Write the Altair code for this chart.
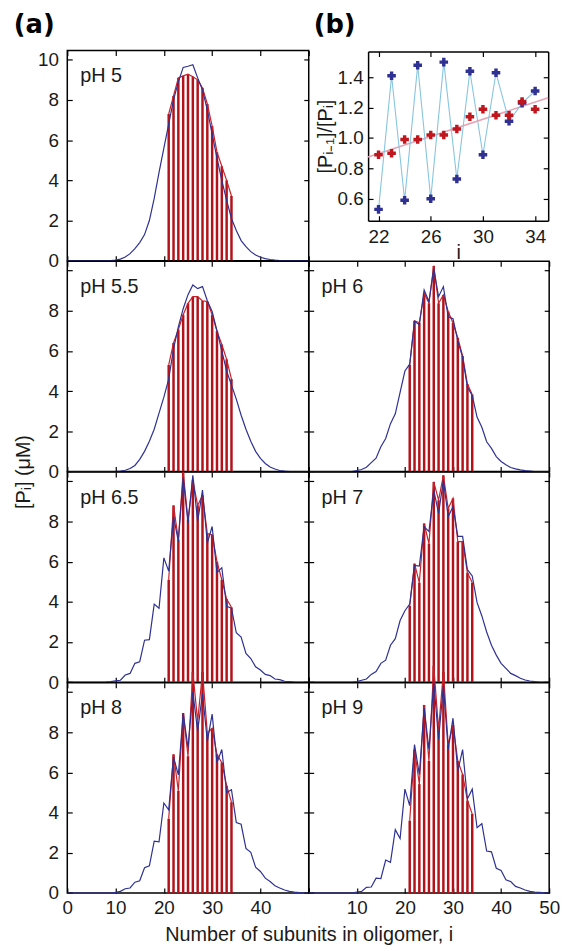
import altair as alt
import pandas as pd

# ---------------- data ----------------
I = [0, 1, 2, 3, 4, 5, 6, 7, 8, 9, 10, 11, 12, 13, 14, 15, 16, 17, 18, 19, 20,
     21, 22, 23, 24, 25, 26, 27, 28, 29, 30, 31, 32, 33, 34, 35, 36, 37, 38, 39,
     40, 41, 42, 43, 44, 45, 46, 47, 48, 49, 50]
RI = [21, 22, 23, 24, 25, 26, 27, 28, 29, 30, 31, 32, 33, 34]

BLUE_PH5 = [0, 0, 0, 0, 0, 0, 0, 0, 0.0, 0.01, 0.03, 0.08, 0.18, 0.35, 0.6, 0.9, 1.3, 2.0,
            3.1, 4.4, 5.6, 6.8, 8.0, 8.9, 9.62, 9.68, 9.75, 9.1, 8.5, 7.5, 6.3, 5.1, 4.0,
            3.0, 2.1, 1.5, 1.0, 0.7, 0.45, 0.28, 0.17, 0.1, 0.06, 0.03, 0.01, 0, 0, 0, 0, 0, 0]
BLUE_PH55 = [0, 0, 0, 0, 0, 0, 0, 0, 0, 0, 0.0, 0.02, 0.06, 0.15, 0.3, 0.6, 1.0, 1.5, 2.1,
             2.9, 3.7, 4.6, 6.1, 7.2, 8.1, 8.8, 9.28, 9.1, 9.2, 8.5, 7.96, 7.0, 6.0, 5.0, 4.3,
             3.6, 2.8, 2.1, 1.5, 1.0, 0.65, 0.4, 0.22, 0.12, 0.05, 0.02, 0, 0, 0, 0, 0]
BLUE_PH6 = [0, 0, 0, 0, 0, 0, 0, 0, 0, 0, 0.05, 0.1, 0.21, 0.44, 0.66, 1.23, 1.64, 2.38, 2.87,
            3.94, 5.0, 5.34, 7.47, 7.3, 9.03, 8.46, 10.1, 8.7, 9.2, 7.7, 7.6, 6.5, 5.67, 4.19,
            3.78, 2.71, 2.2, 1.48, 1.15, 0.74, 0.5, 0.33, 0.2, 0.13, 0.08, 0.04, 0.02, 0, 0, 0, 0]
BLUE_PH65 = [0, 0, 0, 0, 0, 0, 0, 0, 0.01, 0.03, 0.07, 0.1, 0.36, 0.44, 0.94, 1.02, 2.09, 2.12,
             3.89, 3.68, 6.19, 5.53, 8.24, 7.01, 10.2, 7.9, 10.3, 8.0, 9.56, 6.93, 7.75, 5.45,
             5.7, 3.78, 3.69, 2.46, 2.25, 1.43, 1.18, 0.77, 0.61, 0.39, 0.33, 0.16, 0.13, 0.05,
             0.03, 0.01, 0, 0, 0]
BLUE_PH7 = [0, 0, 0, 0, 0, 0, 0, 0, 0, 0, 0.03, 0.1, 0.16, 0.39, 0.53, 0.94, 1.1, 1.84, 2.17,
            3.07, 3.56, 3.89, 5.81, 5.78, 7.75, 7.5, 9.56, 8.4, 10.05, 8.24, 8.74, 7.26, 7.26,
            5.6, 5.29, 3.97, 3.3, 2.5, 1.84, 1.35, 0.94, 0.69, 0.44, 0.33, 0.2, 0.11, 0.06, 0.03,
            0, 0, 0]
BLUE_PH8 = [0, 0, 0, 0, 0, 0, 0, 0, 0, 0, 0.03, 0.08, 0.21, 0.25, 0.54, 0.61, 1.26, 1.35, 2.58,
            2.55, 4.48, 4.14, 6.77, 5.88, 8.95, 7.22, 10.0, 8.05, 9.93, 7.55, 8.9, 6.49, 7.14,
            5.0, 5.14, 3.5, 3.42, 2.22, 2.02, 1.28, 1.07, 0.74, 0.57, 0.36, 0.25, 0.15, 0.08,
            0.04, 0.02, 0, 0]
BLUE_PH9 = [0, 0, 0, 0, 0, 0, 0, 0, 0, 0, 0.05, 0.08, 0.28, 0.3, 0.74, 0.72, 1.64, 1.53, 3.15,
            2.71, 5.17, 4.35, 7.39, 5.9, 9.2, 7.14, 10.5, 7.64, 10.3, 7.14, 8.7, 6.08, 7.14,
            4.68, 5.17, 3.25, 3.45, 2.09, 2.05, 1.23, 1.12, 0.66, 0.57, 0.33, 0.25, 0.15, 0.08,
            0.05, 0.03, 0.01, 0]

RED_PH5 = [7.3, 8.2, 9.1, 9.2, 9.28, 9.16, 9.0, 8.6, 7.8, 6.7, 5.4, 4.7, 4.0, 3.22]
RED_PH55 = [5.3, 6.4, 7.06, 7.8, 8.37, 8.7, 8.7, 8.49, 8.46, 7.8, 6.98, 6.32, 5.58, 4.6]
RED_PH6 = [5.3, 7.5, 7.4, 8.87, 8.37, 10.23, 8.37, 8.78, 7.96, 7.39, 6.65, 5.75, 4.35, 3.83]
RED_PH65 = [5.1, 8.8, 7.1, 10.45, 8.1, 10.05, 8.8, 9.3, 7.4, 7.34, 6.0, 5.1, 4.14, 3.73]
RED_PH7 = [3.8, 5.9, 4.96, 7.9, 6.9, 9.97, 9.06, 10.3, 8.65, 9.15, 7.0, 7.0, 5.45, 4.96]
RED_PH8 = [3.7, 6.9, 5.09, 8.95, 6.81, 11.0, 8.54, 11.0, 7.96, 8.2, 6.9, 6.49, 5.34, 4.52]
RED_PH9 = [3.6, 7.14, 5.42, 9.36, 6.57, 11.3, 8.13, 11.0, 7.39, 8.37, 6.57, 5.9, 4.6, 3.94]

# inset (b)
IB = [22, 23, 24, 25, 26, 27, 28, 29, 30, 31, 32, 33, 34]
RATIO_BLUE = [0.53, 1.41, 0.59, 1.48, 0.60, 1.50, 0.73, 1.44, 0.89, 1.43, 1.11, 1.23, 1.31]
RATIO_RED = [0.89, 0.90, 0.99, 0.99, 1.02, 1.02, 1.06, 1.14, 1.19, 1.15, 1.15, 1.24, 1.19]
FIT_X = [21.2, 35.0]
FIT_Y = [0.875, 1.265]

X_TICKS = [0, 10, 20, 30, 40, 50]
Y_TICKS = [0, 2, 4, 6, 8, 10]
IB_XTICKS = [22, 26, 30, 34]
IB_YTICKS = [0.6, 0.8, 1.0, 1.2, 1.4]

# ---------------- style ----------------
FONT = "Liberation Sans"
TAGFONT = "DejaVu Sans"
BLUE = "#2e3192"
RED = "#b3121b"
TXT = "#1a1a1a"
TK = 5
LFS = 19      # tick label font size
TFS = 20      # title / label font size
WL, WR, H = 244, 243, 212.4
XD, YD = [0, 50], [0, 10.46]

# inset frame inside its 243 x 212.4 cell
IX0, IX1, IY0, IY1 = 60, 242, 1, 172


def axis(orient, values, labels=True, expr=None, **kw):
    args = dict(orient=orient, values=values, tickSize=TK, offset=-TK, domain=False,
                grid=False, tickColor="black", tickWidth=1.2, labels=labels,
                labelFont=FONT, labelFontSize=LFS, labelColor=TXT, labelFlush=False,
                labelPadding=6 if orient in ("bottom", "top") else 9,
                titleFont=FONT, titleFontSize=TFS, titleFontWeight="normal",
                titleColor=TXT)
    if expr is not None:
        args["labelExpr"] = expr
    args.update(kw)
    return alt.Axis(**args)


def frame_axis(orient, offset):
    return alt.Axis(orient=orient, offset=offset, domain=True, domainColor="black",
                    domainWidth=1.5, ticks=False, labels=False, grid=False)


def tag_layer(tag, x):
    return alt.Chart(pd.DataFrame({"t": [tag]})).mark_text(
        align="left", baseline="alphabetic", font=TAGFONT, fontSize=26,
        fontWeight="bold", color="black"
    ).encode(text="t:N", x=alt.value(x), y=alt.value(-18))


def panel(label, blue, red, width, xlabels, ylabels, hide_y10, xexpr=None,
          xtitle=None, ytitle=None, tag=None):
    dfb = pd.DataFrame({"i": I, "v": blue})
    dfr = pd.DataFrame({"i": RI, "r": red})
    xs = alt.Scale(domain=XD, nice=False, zero=False)
    ys = alt.Scale(domain=YD, nice=False, zero=False)

    bkw = {}
    if xtitle is not None:
        bkw = dict(titleX=width, titleAlign="center", titlePadding=7)
    lkw = {}
    if ytitle is not None:
        lkw = dict(titleY=H, titleAlign="center", titlePadding=15)

    ax_b = axis("bottom", X_TICKS, labels=xlabels, expr=xexpr, **bkw)
    ax_l = axis("left", Y_TICKS, labels=ylabels,
                expr=("datum.value == 10 ? '' : datum.label") if hide_y10 else None, **lkw)
    ax_t = axis("top", X_TICKS, labels=False)
    ax_r = axis("right", Y_TICKS, labels=False)

    rules = alt.Chart(dfr).mark_rule(color=RED, strokeWidth=2.5).encode(
        x=alt.X("i:Q", scale=xs, axis=ax_t, title=None),
        y=alt.Y("r:Q", scale=ys, axis=ax_r, title=None),
        y2=alt.datum(0),
    )
    rline = alt.Chart(dfr).mark_line(color="#c8202a", strokeWidth=1.2).encode(
        x=alt.X("i:Q", scale=xs, axis=None),
        y=alt.Y("r:Q", scale=ys, axis=None),
    )
    bline = alt.Chart(dfb).mark_line(color=BLUE, strokeWidth=1.2).encode(
        x=alt.X("i:Q", scale=xs, axis=ax_b, title=xtitle),
        y=alt.Y("v:Q", scale=ys, axis=ax_l, title=ytitle),
    )
    txt = alt.Chart(pd.DataFrame({"t": [label]})).mark_text(
        align="left", baseline="alphabetic", font=FONT, fontSize=TFS, color=TXT
    ).encode(text="t:N", x=alt.value(13), y=alt.value(32))
    layers = [rules, rline, bline, txt]
    if tag is not None:
        layers.append(tag_layer(tag, -54))
    return alt.layer(*layers).resolve_axis(x="independent", y="independent").properties(
        width=width, height=H)


def inset():
    dfb = pd.DataFrame({"i": IB, "v": RATIO_BLUE})
    dfr = pd.DataFrame({"i": IB, "v": RATIO_RED})
    dff = pd.DataFrame({"i": FIT_X, "v": FIT_Y})
    xs = alt.Scale(domain=[21.2, 35], range=[IX0, IX1], nice=False, zero=False)
    ys = alt.Scale(domain=[0.455, 1.57], range=[IY1, IY0], nice=False, zero=False)
    # tick/label axes (inward ticks)
    ax_b = axis("bottom", IB_XTICKS, offset=-(H - IY1) - TK, labelPadding=7,
                titleBaseline="alphabetic", titleY=43)
    ax_l = axis("left", IB_YTICKS, format=".1f", offset=-IX0 - TK, labelPadding=5,
                titlePadding=2)
    ax_t = axis("top", IB_XTICKS, labels=False, offset=-IY0 - TK)
    ax_r = axis("right", IB_YTICKS, labels=False, offset=-(WR - IX1) - TK)
    fit = alt.Chart(dff).mark_line(color="#e8a3b3", strokeWidth=1.6).encode(
        x=alt.X("i:Q", scale=xs, axis=ax_t, title=None),
        y=alt.Y("v:Q", scale=ys, axis=ax_r, title=None),
    )
    bl = alt.Chart(dfb).mark_line(color="#86c5e0", strokeWidth=1.1).encode(
        x=alt.X("i:Q", scale=xs, axis=ax_b, title="i"),
        y=alt.Y("v:Q", scale=ys, axis=ax_l, title="[Pᵢ₋₁]/[Pᵢ]"),
    )
    bp = alt.Chart(dfb).mark_point(shape="cross", filled=True, size=75, color=BLUE,
                                   opacity=1).encode(
        x=alt.X("i:Q", scale=xs, axis=frame_axis("bottom", -(H - IY1)), title=None),
        y=alt.Y("v:Q", scale=ys, axis=frame_axis("left", -IX0), title=None))
    rp = alt.Chart(dfr).mark_point(shape="cross", filled=True, size=75, color="#c0161e",
                                   opacity=1).encode(
        x=alt.X("i:Q", scale=xs, axis=frame_axis("top", -IY0), title=None),
        y=alt.Y("v:Q", scale=ys, axis=frame_axis("right", -(WR - IX1)), title=None))
    return alt.layer(fit, bl, bp, rp, tag_layer("(b)", 5)).resolve_axis(
        x="independent", y="independent").properties(
        width=WR, height=H, view=alt.ViewConfig(stroke="transparent"))


p5 = panel("pH 5", BLUE_PH5, RED_PH5, WL, False, True, False, tag="(a)")
p55 = panel("pH 5.5", BLUE_PH55, RED_PH55, WL, False, True, True, ytitle="[Pᵢ]  (μM)")
p6 = panel("pH 6", BLUE_PH6, RED_PH6, WR, False, False, True)
p65 = panel("pH 6.5", BLUE_PH65, RED_PH65, WL, False, True, True)
p7 = panel("pH 7", BLUE_PH7, RED_PH7, WR, False, False, True)
p8 = panel("pH 8", BLUE_PH8, RED_PH8, WL, True, True, True,
           xexpr="datum.value == 50 ? '' : datum.label",
           xtitle="Number of subunits in oligomer, i")
p9 = panel("pH 9", BLUE_PH9, RED_PH9, WR, True, False, True,
           xexpr="datum.value == 0 ? '' : datum.label")

chart = alt.concat(p5, inset(), p55, p6, p65, p7, p8, p9, columns=2, spacing=0,
                   bounds="flush").properties(
    padding={"left": 12, "top": 6, "right": 5, "bottom": 5},
    background="white",
).configure_view(stroke="black", strokeWidth=1.5)

chart.save("out.html", embed_options={"renderer": "svg", "actions": False})
